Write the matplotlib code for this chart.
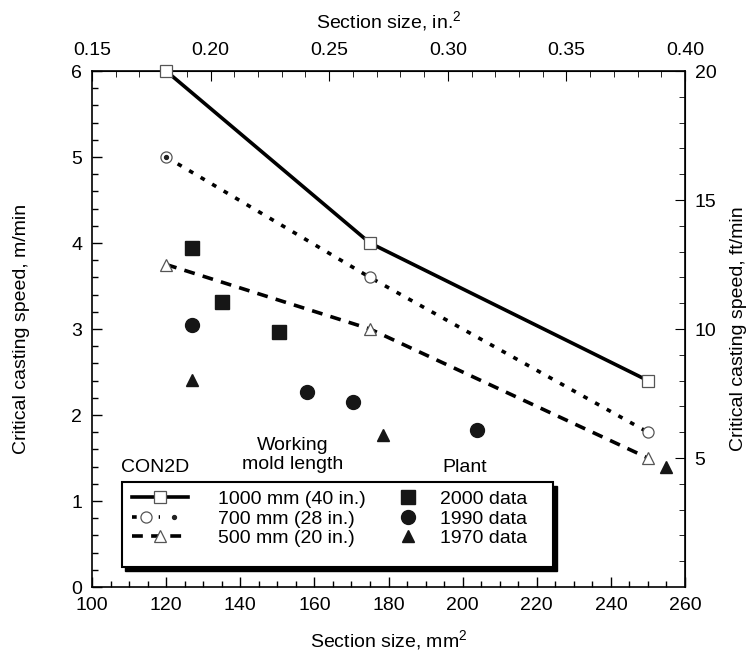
import matplotlib
matplotlib.use("Agg")
import matplotlib.pyplot as plt                          # noqa: E402
from matplotlib.patches import Rectangle                 # noqa: E402
from matplotlib.legend_handler import HandlerTuple       # noqa: E402
from matplotlib.ticker import MultipleLocator, FixedLocator  # noqa: E402

plt.rcParams["font.family"] = ["Liberation Sans", "DejaVu Sans"]
plt.rcParams["font.size"] = 14
plt.rcParams["mathtext.default"] = "regular"

# CON2D predictions (section size mm, critical speed m/min)
con2d_size = [120, 175, 250]
speed_1000 = [6.0, 4.0, 2.4]
speed_700 = [5.0, 3.6, 1.8]
speed_500 = [3.75, 3.0, 1.5]
con2d_labels = ["1000 mm (40 in.)", "700 mm (28 in.)", "500 mm (20 in.)"]

# plant measurements
size_2000 = [127, 135, 150.5]
speed_2000 = [3.94, 3.31, 2.97]
size_1990 = [127, 158, 170.5, 204]
speed_1990 = [3.05, 2.27, 2.15, 1.83]
size_1970 = [127, 178.5, 255]
speed_1970 = [2.41, 1.77, 1.40]
plant_labels = ["2000 data", "1990 data", "1970 data"]

# secondary axis ticks
inch_ticks = [0.15, 0.20, 0.25, 0.30, 0.35, 0.40]
inch_minor = [0.15 + 0.01 * i for i in range(26)]
ft_ticks = [5, 10, 15, 20]
ft_minor = list(range(1, 21))


def mm_to_in(x):
    return 0.15 + (x - 100) * 0.25 / 160


def in_to_mm(x):
    return 100 + (x - 0.15) * 160 / 0.25


def m_to_ft(y):
    return y * 20 / 6


def ft_to_m(y):
    return y * 6 / 20


fig = plt.figure(figsize=(7.53, 6.55), dpi=100)
ax = fig.add_axes([0.1222, 0.1038, 0.7875, 0.7878])

open_kw = dict(mfc="white", mec="#555555", mew=0.9, clip_on=False, zorder=3)
l1000, = ax.plot(con2d_size, speed_1000, color="black", lw=2.6, marker="s",
                 ms=9, **open_kw)
l700, = ax.plot(con2d_size, speed_700, color="black", lw=2.6,
                ls=(0, (1.3, 2.4)), marker="o", ms=8, **open_kw)
dot700, = ax.plot(con2d_size[:1], speed_700[:1], ls="none", marker="o",
                  ms=2.8, color="#222222", zorder=4)
l500, = ax.plot(con2d_size, speed_500, color="black", lw=2.6,
                ls=(0, (3, 2.3)), marker="^", ms=8, **open_kw)

p2000, = ax.plot(size_2000, speed_2000, ls="none", marker="s", ms=10,
                 color="#161616")
p1990, = ax.plot(size_1990, speed_1990, ls="none", marker="o", ms=10,
                 color="#161616")
p1970, = ax.plot(size_1970, speed_1970, ls="none", marker="^", ms=8,
                 color="#161616")

ax.set_xlim(100, 260)
ax.set_ylim(0, 6)
ax.xaxis.set_major_locator(MultipleLocator(20))
ax.xaxis.set_minor_locator(MultipleLocator(5))
ax.yaxis.set_major_locator(MultipleLocator(1))
ax.yaxis.set_minor_locator(MultipleLocator(0.2))
ax.tick_params(which="both", direction="in", top=False, right=False,
               width=1.0, pad=7)
ax.tick_params(which="major", length=7)
ax.tick_params(which="minor", length=4)
for sp in ax.spines.values():
    sp.set_linewidth(1.2)
ax.set_xlabel("Section size, mm$^2$", labelpad=10)
ax.set_ylabel("Critical casting speed, m/min", labelpad=30)

secx = ax.secondary_xaxis("top", functions=(mm_to_in, in_to_mm))
secx.xaxis.set_major_locator(FixedLocator(inch_ticks))
secx.xaxis.set_minor_locator(FixedLocator(inch_minor))
secx.xaxis.set_major_formatter("{x:.2f}")
secx.tick_params(which="both", direction="in", pad=9)
secx.tick_params(which="major", length=7)
secx.tick_params(which="minor", length=4)
secx.set_xlabel("Section size, in.$^2$", labelpad=10)

secy = ax.secondary_yaxis("right", functions=(m_to_ft, ft_to_m))
secy.yaxis.set_major_locator(FixedLocator(ft_ticks))
secy.yaxis.set_minor_locator(FixedLocator(ft_minor))
secy.tick_params(which="both", direction="in", pad=7)
secy.tick_params(which="major", length=7)
secy.tick_params(which="minor", length=4)
secy.set_ylabel("Critical casting speed, ft/min", labelpad=10)

# legend box with drop shadow
ax.add_patch(Rectangle((0.056, 0.031), 0.728, 0.165, transform=ax.transAxes,
                       facecolor="black", edgecolor="black", zorder=4))
ax.add_patch(Rectangle((0.050, 0.039), 0.728, 0.165, transform=ax.transAxes,
                       facecolor="white", edgecolor="black", lw=1.5, zorder=4.5))

leg_kw = dict(loc="upper left", frameon=False, borderpad=0, borderaxespad=0,
              labelspacing=0.1, fontsize=14)
leg1 = ax.legend([l1000, (l700, dot700), l500], con2d_labels,
                 bbox_to_anchor=(0.0675, 0.187), handlelength=2.9,
                 handletextpad=1.5,
                 handler_map={tuple: HandlerTuple(ndivide=None)}, **leg_kw)
leg1.set_zorder(6)
ax.add_artist(leg1)
leg2 = ax.legend([p2000, p1990, p1970], plant_labels,
                 bbox_to_anchor=(0.5165, 0.187), handlelength=1.0,
                 handletextpad=1.15, **leg_kw)
leg2.set_zorder(6)

ax.text(0.106, 0.231, "CON2D", ha="center", va="center", transform=ax.transAxes)
ax.text(0.338, 0.256, "Working\nmold length", ha="center", va="center",
        transform=ax.transAxes)
ax.text(0.629, 0.231, "Plant", ha="center", va="center", transform=ax.transAxes)

fig.savefig("out.png", dpi=100)
